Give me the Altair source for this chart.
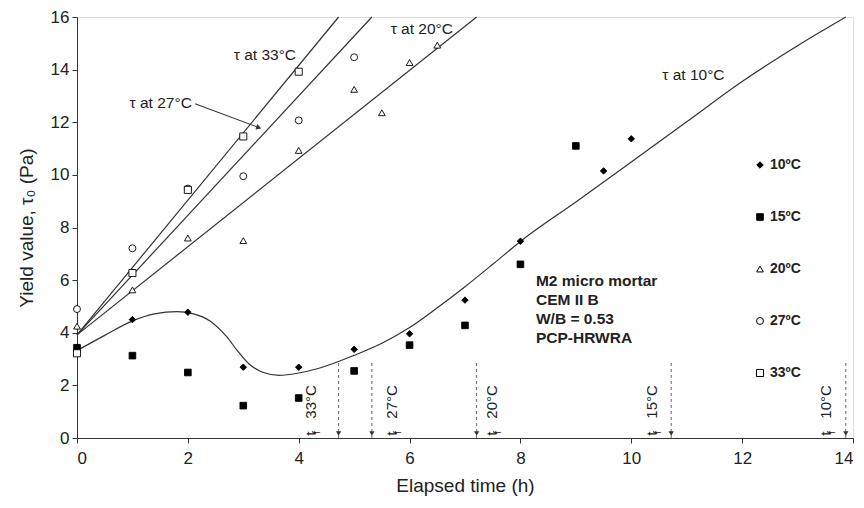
import altair as alt
import pandas as pd

# ---------------- data ----------------
series = ["10ºC", "15ºC", "20ºC", "27ºC", "33ºC"]

t10_x = [1, 2, 3, 4, 5, 6, 7, 8, 9.5, 10]
t10_y = [4.50, 4.78, 2.69, 2.69, 3.37, 3.96, 5.24, 7.48, 10.15, 11.37]

t15_x = [0, 1, 2, 3, 4, 5, 6, 7, 8, 9]
t15_y = [3.43, 3.13, 2.49, 1.23, 1.52, 2.55, 3.53, 4.28, 6.60, 11.10]

t20_x = [0, 1, 2, 3, 4, 5, 5.5, 6, 6.5]
t20_y = [4.25, 5.63, 7.60, 7.50, 10.93, 13.25, 12.36, 14.27, 14.93]

t27_x = [0, 1, 2, 3, 4, 5]
t27_y = [4.90, 7.21, 9.48, 9.95, 12.07, 14.47]

t33_x = [0, 1, 2, 3, 4]
t33_y = [3.22, 6.27, 9.43, 11.46, 13.92]

# straight fitted lines (20, 27, 33 C): common start, end at 16 Pa
fit_names = ["20", "27", "33"]
fit_start_y = 3.92
fit_end_x = [7.21, 5.32, 4.72]
fit_end_y = 16.0

# fitted curve for 10 C
curve10_x = [0, 0.5, 1.0, 1.4, 1.8, 2.1, 2.4, 2.7, 2.9, 3.1, 3.35, 3.65, 4.0,
             4.35, 5.0, 5.5, 6.0, 6.5, 7.0, 7.5, 8.0, 9.0, 10.0, 11.0, 12.0,
             13.0, 13.87]
curve10_y = [3.32, 3.90, 4.45, 4.72, 4.80, 4.72, 4.45, 3.85, 3.30, 2.82, 2.50,
             2.38, 2.47, 2.64, 3.14, 3.60, 4.20, 4.95, 5.75, 6.60, 7.47, 8.97,
             10.49, 12.02, 13.55, 14.91, 16.0]

# final setting times (arrows)
tf_x = [4.72, 5.32, 7.21, 10.72, 13.87]
tf_temp = ["33°C", "27°C", "20°C", "15°C", "10°C"]
tf_label_shift = [-0.49, 0.36, 0.27, -0.34, -0.36]   # label beside arrow (h)
tf_top = 2.85
tf_base = 0.0
tf_head_y = 0.17
tf_label_y = 0.05

# line labels
tau_text = ["τ at 33°C", "τ at 27°C", "τ at 20°C", "τ at 10°C"]
tau_x = [3.39, 1.51, 6.22, 11.12]
tau_y = [14.56, 12.74, 15.55, 13.80]

# arrow for the 27 C label
arrow_x = [2.13, 3.28]
arrow_y = [12.70, 11.80]

note_lines = ["M2 micro mortar", "CEM II B", "W/B = 0.53", "PCP-HRWRA"]
note_x = 8.28
note_y = 6.25

# ---------------- build tables ----------------
pts = pd.concat([
    pd.DataFrame({"x": t10_x, "y": t10_y, "series": series[0]}),
    pd.DataFrame({"x": t15_x, "y": t15_y, "series": series[1]}),
    pd.DataFrame({"x": t20_x, "y": t20_y, "series": series[2]}),
    pd.DataFrame({"x": t27_x, "y": t27_y, "series": series[3]}),
    pd.DataFrame({"x": t33_x, "y": t33_y, "series": series[4]}),
], ignore_index=True)

fit_rows = []
for n, ex in zip(fit_names, fit_end_x):
    fit_rows.append({"fit": n, "x": 0.0, "y": fit_start_y})
    fit_rows.append({"fit": n, "x": ex, "y": fit_end_y})
fits = pd.DataFrame(fit_rows)

curve = pd.DataFrame({"x": curve10_x, "y": curve10_y})

tf = pd.DataFrame({"x": tf_x, "temp": tf_temp, "shift": tf_label_shift,
                   "top": tf_top, "base": tf_base, "head": tf_head_y,
                   "ly": tf_label_y})
tf["lx"] = tf["x"] + tf["shift"]

tau = pd.DataFrame({"text": tau_text, "x": tau_x, "y": tau_y})
arrow = pd.DataFrame({"x": arrow_x, "y": arrow_y, "o": [0, 1]})
note = pd.DataFrame({"x": [note_x], "y": [note_y]})

# ---------------- scales / axes ----------------
FONT = "Liberation Sans"
INK = "#333333"
xs = alt.Scale(domain=[0, 14], nice=False, zero=False)
ys = alt.Scale(domain=[0, 16], nice=False, zero=False)
xaxis = alt.Axis(values=list(range(0, 15, 2)), format="d", grid=False,
                 tickSize=5, labelFontSize=17, labelPadding=7,
                 titleFontSize=19, titleFontWeight="normal", titlePadding=10,
                 domainColor=INK, tickColor=INK, labelColor="#222",
                 titleColor="#222")
yaxis = alt.Axis(values=list(range(0, 17, 2)), format="d", grid=False,
                 tickSize=5, labelFontSize=17, labelPadding=3,
                 titleFontSize=19, titleFontWeight="normal", titlePadding=14,
                 domainColor=INK, tickColor=INK, labelColor="#222",
                 titleColor="#222")

X = alt.X("x:Q", scale=xs, axis=xaxis, title="Elapsed time (h)")
Y = alt.Y("y:Q", scale=ys, axis=yaxis, title="Yield value, τ₀ (Pa)")

fit_layer = alt.Chart(fits).mark_line(color=INK, strokeWidth=1.2).encode(
    x=X, y=Y, detail="fit:N")

curve_layer = alt.Chart(curve).mark_line(
    color=INK, strokeWidth=1.2, interpolate="monotone").encode(x=X, y=Y)

legend = alt.Legend(title=None, orient="none", legendX=676, legendY=141,
                    rowPadding=38, labelFontSize=14, labelFontWeight="bold",
                    labelFont=FONT, labelColor="#222",
                    symbolStrokeWidth=1, labelOffset=3, padding=0)

points_layer = alt.Chart(pts).mark_point(
    filled=True, strokeWidth=0.9, opacity=1).encode(
    x=X, y=Y,
    shape=alt.Shape("series:N", scale=alt.Scale(
        domain=series,
        range=["diamond", "square", "triangle-up", "circle", "square"]),
        legend=legend),
    fill=alt.Fill("series:N", scale=alt.Scale(
        domain=series, range=["black", "black", "white", "white", "white"]),
        legend=legend),
    stroke=alt.Stroke("series:N", scale=alt.Scale(
        domain=series, range=["black", "black", "black", "black", "black"]),
        legend=legend),
    size=alt.Size("series:N", scale=alt.Scale(
        domain=series, range=[42, 50, 26, 30, 32]), legend=legend),
)

tf_rules = alt.Chart(tf).mark_rule(
    strokeDash=[3, 3], color="#666", strokeWidth=1).encode(
    x=alt.X("x:Q", scale=xs), y=alt.Y("top:Q", scale=ys), y2="base:Q")

tf_heads = alt.Chart(tf).mark_point(
    shape="triangle-down", filled=True, size=28, color=INK, opacity=1).encode(
    x=alt.X("x:Q", scale=xs), y=alt.Y("head:Q", scale=ys))

tf_t = alt.Chart(tf).mark_text(
    angle=270, align="left", baseline="middle", fontSize=15, font=FONT,
    color="#222", dx=1).encode(
    x=alt.X("lx:Q", scale=xs), y=alt.Y("ly:Q", scale=ys), text=alt.value("t"))

tf_f = alt.Chart(tf).mark_text(
    angle=270, align="left", baseline="middle", fontSize=10, font=FONT,
    color="#222", dx=3, dy=6).encode(
    x=alt.X("lx:Q", scale=xs), y=alt.Y("ly:Q", scale=ys), text=alt.value("f"))

tf_temp_layer = alt.Chart(tf).mark_text(
    angle=270, align="left", baseline="middle", fontSize=15, font=FONT,
    color="#222", dx=18).encode(
    x=alt.X("lx:Q", scale=xs), y=alt.Y("ly:Q", scale=ys), text="temp:N")

tau_layer = alt.Chart(tau).mark_text(
    fontSize=15.5, font=FONT, color="#222", align="center",
    baseline="middle").encode(
    x=alt.X("x:Q", scale=xs), y=alt.Y("y:Q", scale=ys), text="text:N")

arrow_line = alt.Chart(arrow).mark_line(color=INK, strokeWidth=1.1).encode(
    x=alt.X("x:Q", scale=xs), y=alt.Y("y:Q", scale=ys), order="o:Q")

arrow_head = alt.Chart(arrow[arrow["o"] == 1]).mark_point(
    shape="triangle-right", angle=20, filled=True, size=34, color=INK,
    opacity=1).encode(x=alt.X("x:Q", scale=xs), y=alt.Y("y:Q", scale=ys))

note_layer = alt.Chart(note).mark_text(
    align="left", baseline="top", fontSize=15.5, fontWeight="bold",
    font=FONT, color="#222", lineHeight=19).encode(
    x=alt.X("x:Q", scale=xs), y=alt.Y("y:Q", scale=ys),
    text=alt.value(note_lines))

chart = alt.layer(
    fit_layer, curve_layer, tf_rules, tf_heads, tf_t, tf_f, tf_temp_layer,
    tau_layer, arrow_line, arrow_head, note_layer, points_layer,
).properties(
    width=776, height=421,
    autosize=alt.AutoSizeParams(type="none"),
    padding={"left": 69, "top": 9, "right": 3, "bottom": 62},
).configure_view(stroke=None).configure(
    font=FONT
).configure_axis(labelFont=FONT, titleFont=FONT)

chart.save("out.html", embed_options={"renderer": "svg", "actions": False})
